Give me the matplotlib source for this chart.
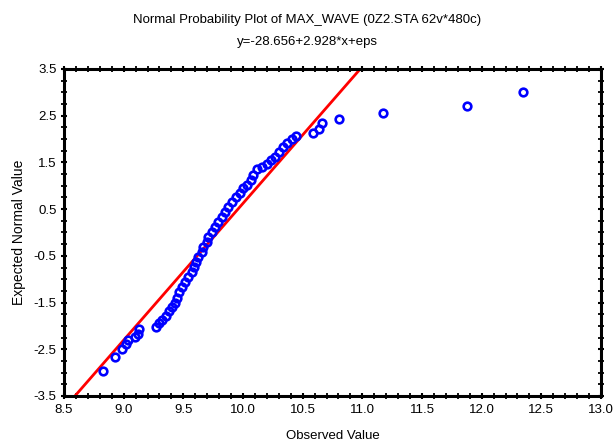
import matplotlib
matplotlib.use('Agg')
import matplotlib.pyplot as plt
import numpy as np
from matplotlib.ticker import MultipleLocator, FormatStrFormatter

plt.rcParams['font.family'] = ['Liberation Sans Narrow', 'Liberation Sans', 'DejaVu Sans']
plt.rcParams['axes.unicode_minus'] = False

observed = [8.824, 8.927, 8.990, 9.020, 9.040, 9.091, 9.118, 9.126, 9.271, 9.296,
            9.325, 9.351, 9.380, 9.409, 9.434, 9.451, 9.466, 9.486, 9.514, 9.542,
            9.570, 9.589, 9.606, 9.625, 9.654, 9.667, 9.696, 9.709, 9.738, 9.765,
            9.793, 9.822, 9.849, 9.877, 9.905, 9.941, 9.975, 10.003, 10.036, 10.065,
            10.086, 10.115, 10.157, 10.199, 10.232, 10.268, 10.304, 10.333, 10.366, 10.408,
            10.444, 10.589, 10.633, 10.660, 10.805, 11.171, 11.880, 12.349]
expected = [-2.959, -2.666, -2.500, -2.383, -2.302, -2.238, -2.169, -2.066, -2.017, -1.948,
            -1.874, -1.777, -1.670, -1.595, -1.520, -1.403, -1.268, -1.161, -1.054, -0.947,
            -0.840, -0.733, -0.625, -0.518, -0.411, -0.304, -0.197, -0.090, 0.017, 0.124,
            0.231, 0.338, 0.445, 0.552, 0.659, 0.753, 0.839, 0.946, 1.017, 1.124,
            1.231, 1.353, 1.408, 1.466, 1.552, 1.622, 1.730, 1.824, 1.909, 1.995,
            2.066, 2.123, 2.205, 2.350, 2.430, 2.552, 2.714, 3.001]

intercept = -28.656
slope = 2.928

fig = plt.figure(figsize=(6.15, 4.42), dpi=100)
ax = fig.add_axes([0.1041, 0.1041, 0.8731, 0.7398])

xl = np.array([8.5, 13.0])
ax.plot(xl, intercept + slope * xl, color='red', lw=2.0, zorder=2)
ax.plot(observed, expected, linestyle='none', marker='o', markersize=5.5,
        markerfacecolor='none', markeredgecolor='blue', markeredgewidth=1.9, zorder=3)

ax.set_xlim(8.5, 13.0)
ax.set_ylim(-3.5, 3.5)
ax.xaxis.set_major_locator(MultipleLocator(0.5))
ax.xaxis.set_minor_locator(MultipleLocator(0.1))
ax.yaxis.set_minor_locator(MultipleLocator(0.25))
ax.set_yticks(np.arange(-3.5, 3.6, 1.0))
ax.xaxis.set_major_formatter(FormatStrFormatter('%.1f'))
ax.yaxis.set_major_formatter(FormatStrFormatter('%.1f'))
ax.tick_params(which='both', direction='inout', top=True, right=True, labelsize=9.5, color='black')
ax.tick_params(which='major', length=5, width=1.5, pad=3)
ax.tick_params(which='minor', length=4, width=1.3)
for s in ax.spines.values():
    s.set_linewidth(2.2)

ax.set_xlabel('Observed Value', fontsize=9.5, labelpad=10)
ax.set_ylabel('Expected Normal Value', fontsize=10, labelpad=5)
fig.text(0.5, 0.955, 'Normal Probability Plot of MAX_WAVE (0Z2.STA 62v*480c)', ha='center', va='center', fontsize=9.5)
fig.text(0.5, 0.905, 'y=-28.656+2.928*x+eps', ha='center', va='center', fontsize=9.5)

fig.savefig('out.png', dpi=100)
